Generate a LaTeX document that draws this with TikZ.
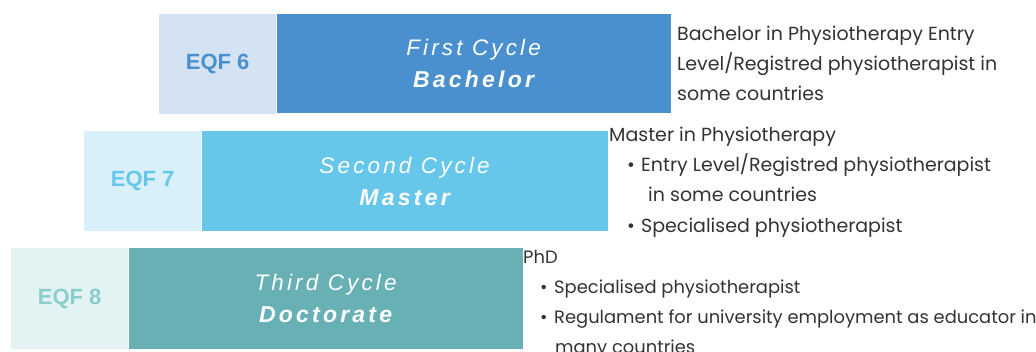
\documentclass[tikz,border=0pt]{standalone}
\usepackage{fontspec}
\setmainfont{Poppins}
\newfontfamily\eqffont{Liberation Sans}
\newfontfamily\cyclefont[LetterSpace=14]{Liberation Sans}
\definecolor{lightA}{HTML}{D3E3F3}
\definecolor{darkA}{HTML}{4A90CE}
\definecolor{lightB}{HTML}{D9EFF9}
\definecolor{darkB}{HTML}{67C7EB}
\definecolor{lightC}{HTML}{E3F3F3}
\definecolor{darkC}{HTML}{67B0B4}
\definecolor{eqfC}{HTML}{8ACDCB}
\definecolor{bodytext}{HTML}{333333}
\tikzset{
  levelbox/.style={anchor=north west, inner sep=0pt, draw=none,
    minimum width=117pt, minimum height=100pt,
    font=\eqffont\bfseries\fontsize{22}{24}\selectfont},
  cyclebox/.style={anchor=north west, inner sep=0pt, draw=none,
    minimum width=395pt, minimum height=100pt, text=white, align=center,
    font=\cyclefont\itshape\fontsize{22.5}{32}\selectfont},
  side/.style={anchor=base west, inner sep=0pt, text=bodytext,
    font=\fontsize{19}{22}\selectfont},
  sidesmall/.style={side, font=\fontsize{17.9}{22}\selectfont},
}
\newcommand{\bul}{\makebox[14pt][l]{\textbullet}}
\begin{document}
\begin{tikzpicture}[x=1pt,y=-1pt]
\useasboundingbox (0,0) rectangle (1036,352);
% first cycle
\node[levelbox, fill=lightA, text=darkA] (eqf6) at (159,14) {EQF 6};
\node[cyclebox, fill=darkA, minimum width=394pt, minimum height=99pt] (cyc1) at (eqf6.north east)
  {First Cycle\\{\bfseries\fontsize{23}{32}\selectfont Bachelor}};
\node[side] (b1) at (677,41) {Bachelor in Physiotherapy Entry};
\node[side] (b2) at (677,71) {Level/Registred physiotherapist in};
\node[side] (b3) at (677,101) {some countries};
% second cycle
\node[levelbox, fill=lightB, text=darkB] (eqf7) at (84,131) {EQF 7};
\node[cyclebox, fill=darkB, minimum width=406pt] (cyc2) at (eqf7.north east)
  {Second Cycle\\{\bfseries\fontsize{23}{32}\selectfont Master}};
\node[side] (m1) at (609,142) {Master in Physiotherapy};
\node[side] (m2) at (627,172) {\bul Entry Level/Registred physiotherapist};
\node[side] (m3) at (648,202) {in some countries};
\node[side] (m4) at (627,233) {\bul Specialised physiotherapist};
% third cycle
\node[levelbox, fill=lightC, text=eqfC, minimum height=101pt] (eqf8) at (11,248) {EQF 8};
\node[cyclebox, fill=darkC, minimum width=394pt, minimum height=101pt] (cyc3) at (eqf8.north east)
  {Third Cycle\\{\bfseries\fontsize{23}{32}\selectfont Doctorate}};
\node[sidesmall] (p1) at (523,264) {PhD};
\node[sidesmall] (p2) at (540,294) {\bul Specialised physiotherapist};
\node[sidesmall] (p3) at (540,324) {\bul Regulament for university employment as educator in};
\node[sidesmall] (p4) at (555,354) {many countries};
\end{tikzpicture}
\end{document}
